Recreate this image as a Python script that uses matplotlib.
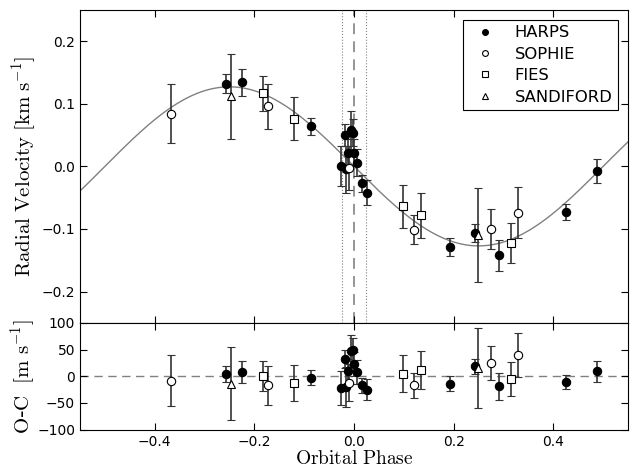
import numpy as np
import matplotlib
matplotlib.use("Agg")
import matplotlib.pyplot as plt

plt.rcParams['mathtext.fontset'] = 'cm'

# --- RV data (phase, km/s, err km/s) ---
harps_phase = [-0.258, -0.225, -0.086, -0.027, -0.019, -0.017, -0.013, -0.007,
               -0.003, -0.001, 0.005, 0.015, 0.025, 0.192, 0.243, 0.291, 0.426, 0.487]
harps_rv = [0.132, 0.134, 0.064, 0.000, 0.050, -0.005, 0.022, 0.058,
            0.054, 0.022, 0.006, -0.027, -0.042, -0.129, -0.106, -0.142, -0.073, -0.008]
harps_err = [0.015, 0.021, 0.014, 0.032, 0.017, 0.038, 0.022, 0.030,
             0.022, 0.022, 0.022, 0.014, 0.020, 0.014, 0.014, 0.025, 0.013, 0.019]
harps_oc = [4, 8, -3, -22, 33, -20, 10, 48, 50, 23, 8, -17, -25, -14, 19, -19, -10, 9]

sophie_phase = [-0.368, -0.173, -0.010, 0.121, 0.275, 0.329]
sophie_rv = [0.084, 0.096, -0.003, -0.101, -0.100, -0.074]
sophie_err = [0.047, 0.036, 0.035, 0.023, 0.032, 0.041]
sophie_oc = [-8, -17, -12, -17, 25, 40]

fies_phase = [-0.182, -0.121, 0.098, 0.134, 0.314]
fies_rv = [0.117, 0.076, -0.064, -0.078, -0.123]
fies_err = [0.028, 0.034, 0.035, 0.036, 0.032]
fies_oc = [1, -13, 5, 12, -5]

sand_phase = [-0.247, 0.249]
sand_rv = [0.112, -0.110]
sand_err = [0.068, 0.075]
sand_oc = [-14, 16]

# orbit model: semi-amplitude
K = 0.127

fig = plt.figure(figsize=(6.3, 4.66), dpi=100)
ax1 = fig.add_axes([0.127, 0.307, 0.870, 0.672])
ax2 = fig.add_axes([0.127, 0.078, 0.870, 0.229], sharex=ax1)

ph = np.linspace(-0.55, 0.55, 500)
ax1.plot(ph, -K * np.sin(2 * np.pi * ph), color='0.5', lw=1, zorder=1)
ax1.axvline(0.0, color='0.55', ls=(0, (6, 4)), lw=1.3, zorder=0)
ax1.axvline(-0.024, color='0.5', ls=':', lw=0.8, zorder=0)
ax1.axvline(0.024, color='0.5', ls=':', lw=0.8, zorder=0)
ax2.axhline(0.0, color='0.5', ls=(0, (6, 4)), lw=1, zorder=0)

sets = [
    ("HARPS", harps_phase, harps_rv, harps_err, harps_oc, 'o', 'k'),
    ("SOPHIE", sophie_phase, sophie_rv, sophie_err, sophie_oc, 'o', 'w'),
    ("FIES", fies_phase, fies_rv, fies_err, fies_oc, 's', 'w'),
    ("SANDIFORD", sand_phase, sand_rv, sand_err, sand_oc, '^', 'w'),
]

for name, p, v, e, oc, mk, fc in sets:
    ax1.errorbar(p, v, yerr=e, fmt=mk, mfc=fc, mec='k', ms=6, mew=0.8,
                 ecolor='0.2', elinewidth=1.2, capsize=3, capthick=1,
                 label=name, zorder=3)
    ax2.errorbar(p, oc, yerr=np.array(e) * 1000, fmt=mk, mfc=fc, mec='k', ms=6, mew=0.8,
                 ecolor='0.2', elinewidth=1.2, capsize=3, capthick=1, zorder=3)

ax1.set_xlim(-0.55, 0.55)
ax1.set_ylim(-0.25, 0.25)
ax1.set_yticks([-0.2, -0.1, 0.0, 0.1, 0.2])
ax2.set_ylim(-100, 100)
ax2.set_yticks([-100, -50, 0, 50, 100])
ax2.set_xticks([-0.4, -0.2, 0.0, 0.2, 0.4])

for ax in (ax1, ax2):
    ax.tick_params(direction='in', top=True, right=True, length=5, labelsize=10)
plt.setp(ax1.get_xticklabels(), visible=False)

ax1.set_ylabel(r'$\mathrm{Radial\ Velocity\ [km\ s^{-1}]}$', fontsize=15)
ax2.set_ylabel(r'$\mathrm{O}$-$\mathrm{C\ \ [m\ s^{-1}]}$', fontsize=15)
ax2.set_xlabel(r'$\mathrm{Orbital\ Phase}$', fontsize=14, labelpad=0)
ax1.yaxis.set_label_coords(-0.074, 0.5)
ax2.yaxis.set_label_coords(-0.076, 0.5)

h, l = ax1.get_legend_handles_labels()
h = [x[0] for x in h]
leg = ax1.legend(h, l, loc='upper right', fontsize=11.8, markerscale=0.7,
                 fancybox=False, edgecolor='k', framealpha=1,
                 handletextpad=0.8, borderpad=0.35, labelspacing=0.39,
                 borderaxespad=0.6)
leg.get_frame().set_linewidth(0.8)

fig.savefig('out.png', dpi=100)
